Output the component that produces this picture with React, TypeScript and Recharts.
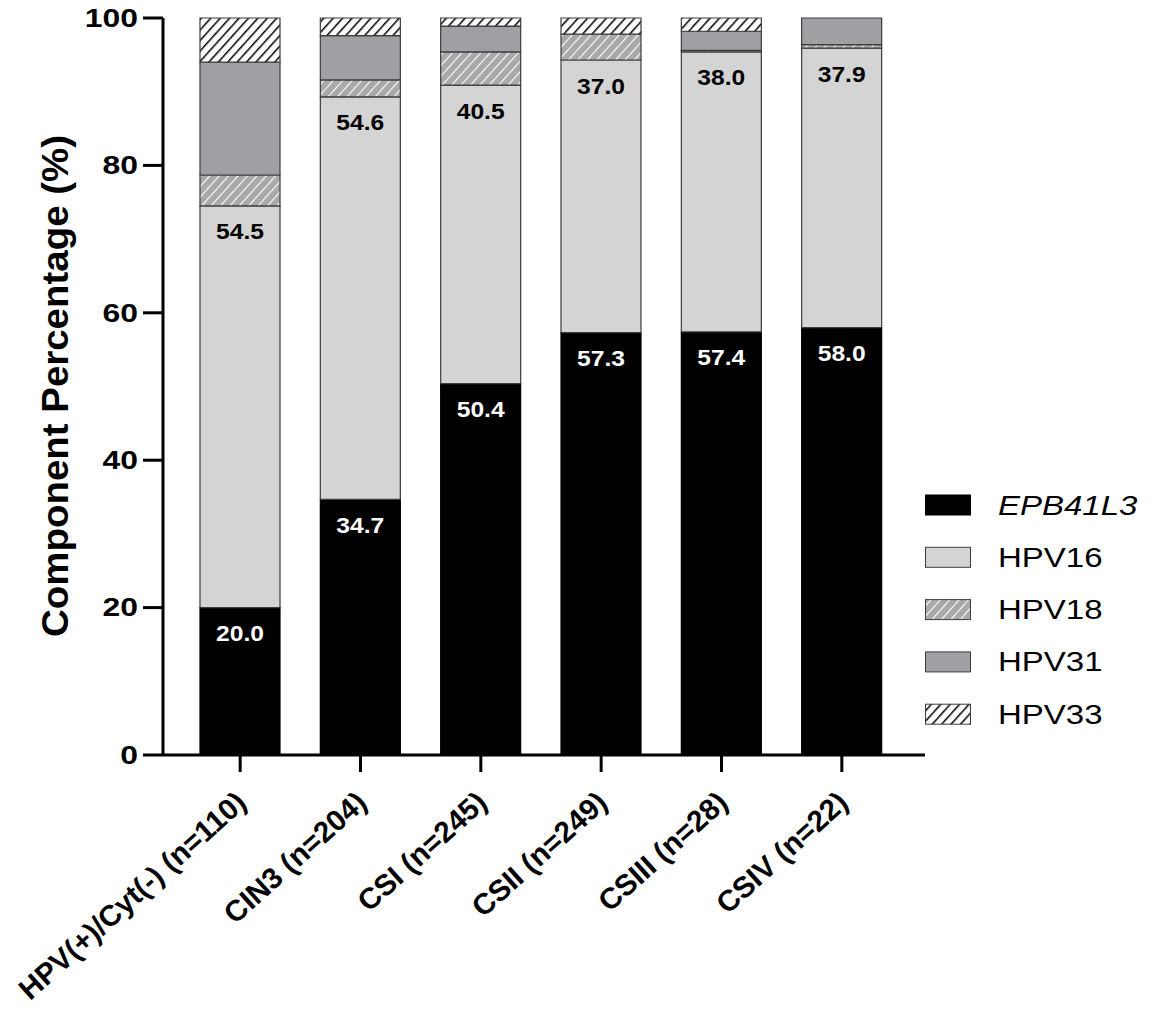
import { BarChart, Bar, XAxis, YAxis, LabelList } from "recharts";

// groups on the x axis
const categories = [
  "HPV(+)/Cyt(-) (n=110)",
  "CIN3 (n=204)",
  "CSI (n=245)",
  "CSII (n=249)",
  "CSIII (n=28)",
  "CSIV (n=22)",
];

// component percentages, stacked bottom to top
const epb41l3 = [20.0, 34.7, 50.4, 57.3, 57.4, 58.0];
const hpv16 = [54.5, 54.6, 40.5, 37.0, 38.0, 37.9];
const hpv18 = [4.2, 2.3, 4.5, 3.5, 0.2, 0.5];
const hpv31 = [15.3, 6.0, 3.5, 0, 2.6, 3.6];
const hpv33 = [6.0, 2.4, 1.1, 2.2, 1.8, 0];

const yTicks = [0, 20, 40, 60, 80, 100];
const seriesKeys = ["EPB41L3", "HPV16", "HPV18", "HPV31", "HPV33"];

const data = categories.map((name, i) => ({
  name,
  EPB41L3: epb41l3[i],
  HPV16: hpv16[i],
  HPV18: hpv18[i],
  HPV31: hpv31[i],
  HPV33: hpv33[i],
}));

const FONT = '"Liberation Sans", Arial, sans-serif';
const EDGE = "#3c3c3c";

const fills: Record<string, string> = {
  EPB41L3: "#000000",
  HPV16: "#d4d4d4",
  HPV18: "url(#hatch18)",
  HPV31: "#a0a0a4",
  HPV33: "url(#hatch33)",
};

const strokes: Record<string, string> = {
  EPB41L3: "#000000",
  HPV16: EDGE,
  HPV18: EDGE,
  HPV31: EDGE,
  HPV33: EDGE,
};

function Patterns() {
  return (
    <defs>
      <pattern id="hatch18" patternUnits="userSpaceOnUse" width="7" height="7" patternTransform="rotate(42)">
        <rect width="7" height="7" fill="#a9a9a9" />
        <line x1="0" y1="0" x2="0" y2="7" stroke="#ffffff" strokeWidth="2.2" />
      </pattern>
      <pattern id="hatch33" patternUnits="userSpaceOnUse" width="7" height="7" patternTransform="rotate(42)">
        <rect width="7" height="7" fill="#ffffff" />
        <line x1="0" y1="0" x2="0" y2="7" stroke="#000000" strokeWidth="3" />
      </pattern>
    </defs>
  );
}

const valueLabel = (color: string) => (props: any) => {
  const { x, y, width, value } = props;
  const cx = Number(x) + Number(width) / 2;
  const cy = Number(y) + 26;
  return (
    <text
      transform={`translate(${cx},${cy}) scale(1.12,1)`}
      textAnchor="middle"
      dominantBaseline="central"
      fill={color}
      fontSize={22}
      fontWeight="bold"
      fontFamily={FONT}
    >
      {Number(value).toFixed(1)}
    </text>
  );
};

function XTick({ x, y, payload }: any) {
  return (
    <g transform={`translate(${x + 8},${y + 31}) rotate(-42)`}>
      <text textAnchor="end" fontSize={29.5} fontWeight="bold" fontFamily={FONT} fill="#000">
        {payload.value}
      </text>
    </g>
  );
}

function YTick({ x, y, payload }: any) {
  return (
    <text
      transform={`translate(${x},${y}) scale(1.25,1)`}
      textAnchor="end"
      dominantBaseline="central"
      fontSize={25.5}
      fontWeight="bold"
      fontFamily={FONT}
      fill="#000"
    >
      {payload.value}
    </text>
  );
}

function YTitle() {
  return (
    <text
      transform="translate(55,386) rotate(-90)"
      textAnchor="middle"
      dominantBaseline="central"
      fontSize={37}
      fontWeight="bold"
      fontFamily={FONT}
      textLength={502}
      lengthAdjust="spacingAndGlyphs"
      fill="#000"
    >
      Component Percentage (%)
    </text>
  );
}

function SideLegend() {
  return (
    <svg width={238} height={260} style={{ position: "absolute", left: 925, top: 480 }}>
      {seriesKeys.map((k, i) => {
        const top = 15 + i * 52.3;
        return (
          <g key={k}>
            <rect x={0.5} y={top} width={45} height={20} fill={fills[k]} stroke={strokes[k]} strokeWidth={1} />
            <text
              transform={`translate(73,${top + 10}) scale(1.2,1)`}
              dominantBaseline="central"
              fontSize={27.5}
              fontStyle={k === "EPB41L3" ? "italic" : "normal"}
              fontFamily={FONT}
              fill="#000"
            >
              {k}
            </text>
          </g>
        );
      })}
    </svg>
  );
}

export default function App() {
  return (
    <div style={{ position: "absolute", left: 0, top: 0, width: 1163, height: 1012, background: "#fff" }}>
      <BarChart
        width={1163}
        height={1012}
        data={data}
        margin={{ top: 18, right: 238, bottom: 7, left: 0 }}
        barSize={80}
      >
        <Patterns />
        <XAxis
          dataKey="name"
          interval={0}
          height={250}
          padding={{ left: 17, right: 23 }}
          axisLine={{ stroke: "#000", strokeWidth: 3 }}
          tickLine={{ stroke: "#000", strokeWidth: 3 }}
          tickSize={17}
          tickMargin={2}
          tick={<XTick />}
        />
        <YAxis
          width={163}
          domain={[0, 100]}
          ticks={yTicks}
          interval={0}
          axisLine={{ stroke: "#000", strokeWidth: 3 }}
          tickLine={{ stroke: "#000", strokeWidth: 3 }}
          tickSize={20}
          tickMargin={5}
          tick={<YTick />}
          label={{ content: () => <YTitle /> }}
        />
        {seriesKeys.map((k) => (
          <Bar
            key={k}
            dataKey={k}
            stackId="s"
            fill={fills[k]}
            stroke={strokes[k]}
            strokeWidth={1.2}
            isAnimationActive={false}
          >
            {k === "EPB41L3" && <LabelList dataKey={k} content={valueLabel("#ffffff")} />}
            {k === "HPV16" && <LabelList dataKey={k} content={valueLabel("#000000")} />}
          </Bar>
        ))}
      </BarChart>
      <SideLegend />
    </div>
  );
}
